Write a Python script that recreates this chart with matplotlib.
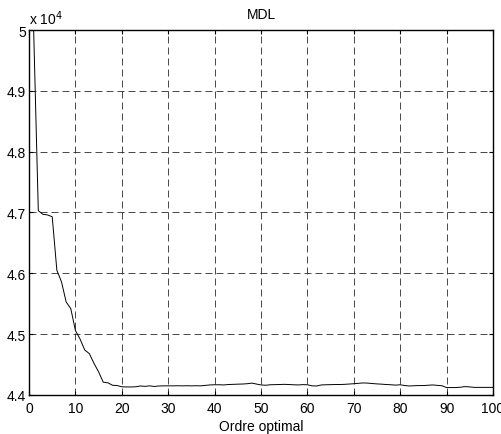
#!/usr/bin/env python3
"""MDL criterion versus model order"""

import matplotlib
matplotlib.use("Agg")
import matplotlib.pyplot as plt

# Model orders
orders: list[int] = list(range(1, 101))

# MDL value (units of 1e4)
mdl: list[float] = [
    5.0, 4.703, 4.697, 4.696, 4.693, 4.605, 4.586, 4.553, 4.542, 4.506,
    4.492, 4.474, 4.468, 4.452, 4.438, 4.421, 4.420, 4.416, 4.4155, 4.4135,
    4.4132, 4.4132, 4.4135, 4.4148, 4.4142, 4.4150, 4.4140, 4.4148, 4.4150, 4.4150,
    4.4150, 4.4152, 4.4150, 4.4152, 4.4150, 4.4152, 4.4150, 4.4158, 4.4165, 4.4168,
    4.4168, 4.4165, 4.4172, 4.4175, 4.4178, 4.4180, 4.4185, 4.4195, 4.4180, 4.4165,
    4.4160, 4.4168, 4.4170, 4.4172, 4.4175, 4.4172, 4.4168, 4.4165, 4.4170, 4.4168,
    4.4150, 4.4148, 4.4165, 4.4168, 4.4170, 4.4172, 4.4172, 4.4175, 4.4180, 4.4185,
    4.4192, 4.4198, 4.4195, 4.4188, 4.4182, 4.4178, 4.4172, 4.4168, 4.4162, 4.4168,
    4.4155, 4.4148, 4.4152, 4.4155, 4.4155, 4.4160, 4.4165, 4.4158, 4.4152, 4.4122,
    4.4122, 4.4122, 4.4128, 4.4138, 4.4132, 4.4125, 4.4125, 4.4125, 4.4125, 4.4125,
]

x_ticks: list[int] = list(range(0, 101, 10))
y_ticks: list[float] = [4.4, 4.5, 4.6, 4.7, 4.8, 4.9, 5.0]
y_labels: list[str] = ["4.4", "4.5", "4.6", "4.7", "4.8", "4.9", "5"]


def main() -> None:
    plt.rcParams["font.family"] = ["Liberation Sans", "DejaVu Sans"]
    plt.rcParams["font.size"] = 10

    fig = plt.figure(figsize=(5.02, 4.35), dpi=100)
    ax = fig.add_axes((0.0578, 0.0897, 0.9243, 0.839))

    ax.plot(orders, mdl, color="black", linewidth=0.7)

    ax.set_xlim(0, 100)
    ax.set_ylim(4.4, 5.0)
    ax.set_xticks(x_ticks)
    ax.set_yticks(y_ticks)
    ax.set_yticklabels(y_labels)

    # MATLAB-like dashed grid
    ax.grid(True, color="#2a2a2a", linestyle=(0, (8.4, 4.8)), linewidth=0.6)
    ax.tick_params(direction="in", top=True, right=True, length=3,
                   pad=4, labelsize=10)
    ax.tick_params(axis="y", pad=2)
    for sp in ax.spines.values():
        sp.set_linewidth(1.0)

    ax.set_title("MDL", fontsize=10, pad=9)
    ax.set_xlabel("Ordre optimal", fontsize=10, labelpad=3)
    ax.text(0.0, 1.008, r"x 10$^4$", transform=ax.transAxes,
            ha="left", va="bottom", fontsize=10)

    fig.savefig("out.png", dpi=100)


if __name__ == "__main__":
    main()
